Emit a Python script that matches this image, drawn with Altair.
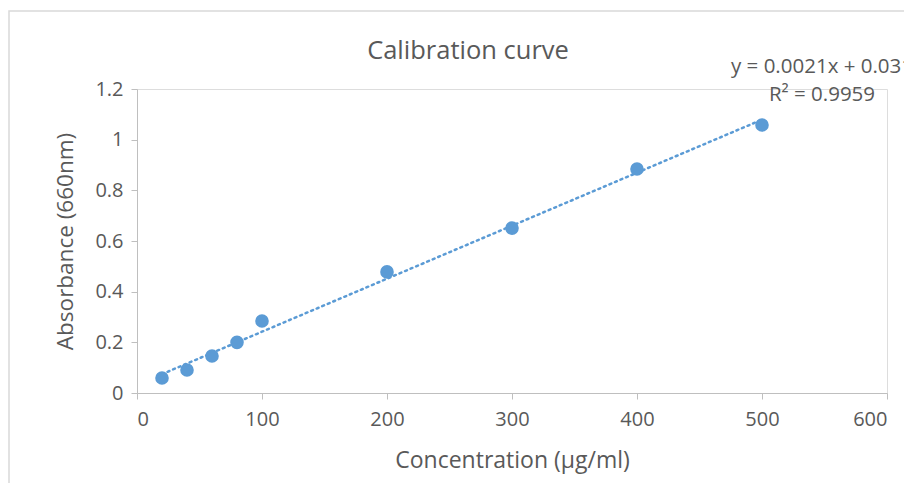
import altair as alt
import pandas as pd

# Data
concentration = [20, 40, 60, 80, 100, 200, 300, 400, 500]
absorbance = [0.059, 0.091, 0.146, 0.200, 0.284, 0.478, 0.651, 0.884, 1.058]
equation_lines = ["y = 0.0021x + 0.031", "R² = 0.9959"]

x_ticks = [0, 100, 200, 300, 400, 500, 600]
y_ticks = [0, 0.2, 0.4, 0.6, 0.8, 1.0, 1.2]

FONT = "Open Sans"
BLUE = "#5b9bd5"
GRAY_TXT = "#595959"

df = pd.DataFrame({"x": concentration, "y": absorbance})

x_scale = alt.Scale(domain=[0, 600], nice=False, zero=True)
y_scale = alt.Scale(domain=[0, 1.2], nice=False)

x_axis = alt.Axis(values=x_ticks, title="Concentration (μg/ml)", grid=False,
                  domainColor="#bfbfbf", tickColor="#bfbfbf", tickSize=6,
                  labelColor=GRAY_TXT, labelFontSize=20, labelFont=FONT,
                  labelPadding=10, titleColor=GRAY_TXT, titleFontSize=23,
                  titleFont=FONT, titleFontWeight="normal", titlePadding=20)
y_axis = alt.Axis(values=y_ticks, title="Absorbance (660nm)", grid=False,
                  domainColor="#bfbfbf", tickColor="#bfbfbf", tickSize=6,
                  labelColor=GRAY_TXT, labelFontSize=20, labelFont=FONT,
                  labelPadding=8, titleColor=GRAY_TXT, titleFontSize=22.5,
                  titleFont=FONT, titleFontWeight="normal", titlePadding=17,
                  format="~g")

base = alt.Chart(df)

frame = alt.Chart(pd.DataFrame({"a": [0]})).mark_rect(
    fill=None, stroke="#d9d9d9", strokeWidth=1.5
).encode(x=alt.value(-128), x2=alt.value(800), y=alt.value(-78), y2=alt.value(420))

trend = base.transform_regression("x", "y", extent=[20, 500]).mark_line(
    color=BLUE, strokeWidth=2.5, strokeDash=[2, 4], strokeCap="round"
).encode(x=alt.X("x:Q", scale=x_scale, axis=x_axis),
         y=alt.Y("y:Q", scale=y_scale, axis=y_axis))

points = base.mark_circle(size=185, color=BLUE, opacity=1).encode(
    x=alt.X("x:Q", scale=x_scale, axis=x_axis),
    y=alt.Y("y:Q", scale=y_scale, axis=y_axis))

eq1 = alt.Chart(pd.DataFrame({"t": [equation_lines[0]]})).mark_text(
    font=FONT, fontSize=20.5, color=GRAY_TXT, align="center", baseline="middle"
).encode(text="t:N", x=alt.value(685), y=alt.value(-22))

eq2 = alt.Chart(pd.DataFrame({"t": [equation_lines[1]]})).mark_text(
    font=FONT, fontSize=20.5, color=GRAY_TXT, align="center", baseline="middle"
).encode(text="t:N", x=alt.value(685), y=alt.value(6))

title = alt.Chart(pd.DataFrame({"t": ["Calibration curve"]})).mark_text(
    font=FONT, fontSize=25.5, color=GRAY_TXT, align="center", baseline="middle"
).encode(text="t:N", x=alt.value(331), y=alt.value(-38))

chart = alt.layer(frame, trend, points, eq1, eq2, title).properties(
    width=750, height=304,
    autosize=alt.AutoSizeParams(type="none"),
    padding={"left": 129, "top": 81, "right": 17, "bottom": 90},
).configure_view(stroke=None).configure(background="white")

chart.save("out.html", embed_options={"renderer": "svg", "actions": False})
